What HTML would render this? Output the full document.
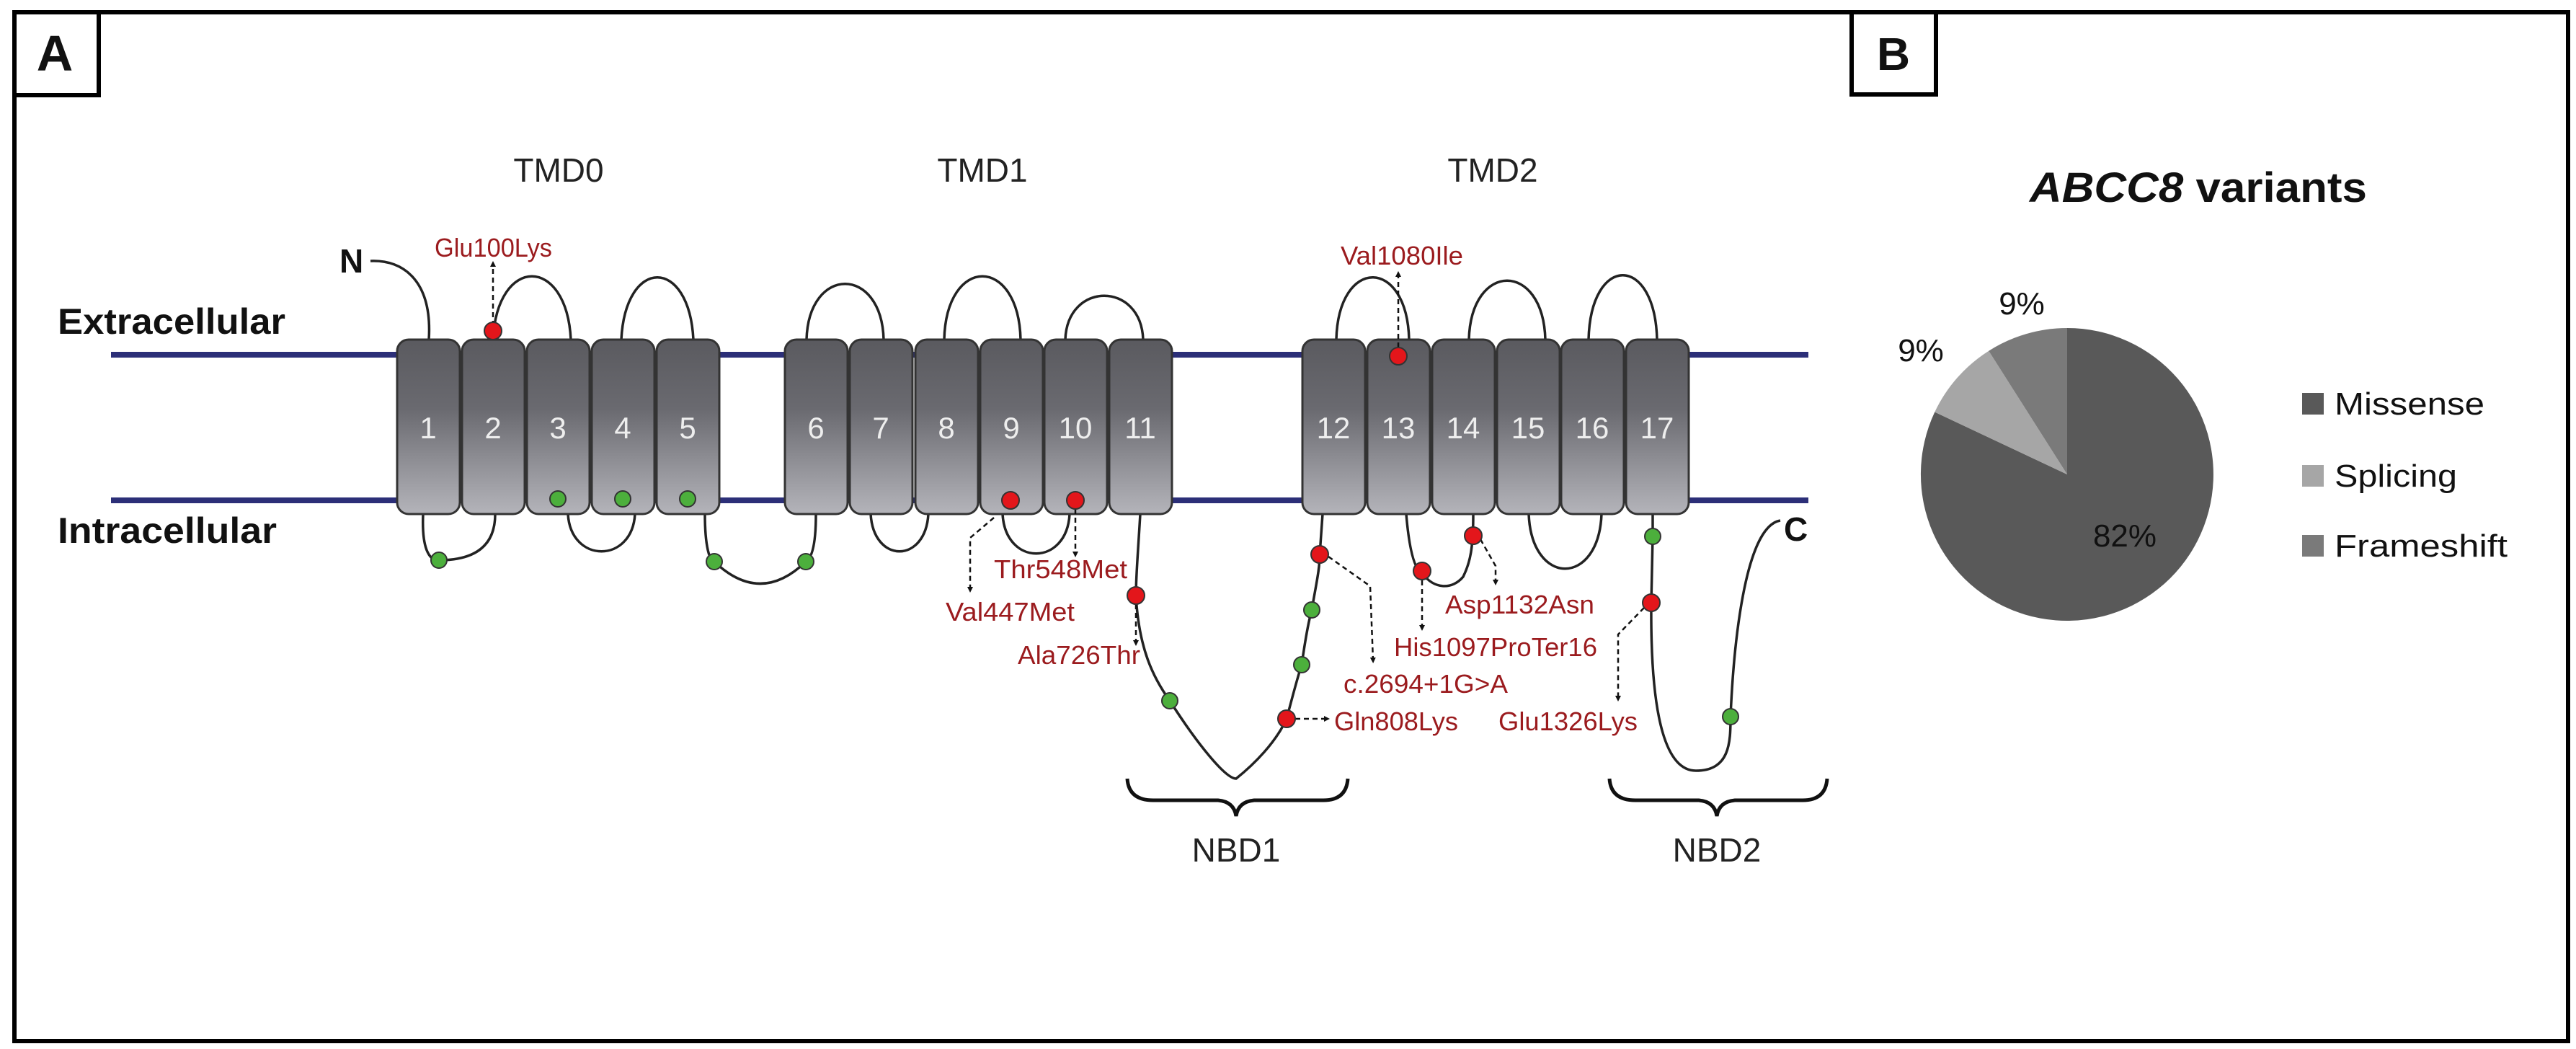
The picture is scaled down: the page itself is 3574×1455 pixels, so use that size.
<!DOCTYPE html>
<html><head><meta charset="utf-8"><style>
html,body{margin:0;padding:0;background:#fff;}
svg{display:block;}
</style></head><body>
<svg width="3574" height="1455" viewBox="0 0 3574 1455" xmlns="http://www.w3.org/2000/svg" font-family="Liberation Sans, sans-serif">
<defs>
<linearGradient id="hx" x1="0" y1="0" x2="0" y2="1">
<stop offset="0" stop-color="#5a5a5f"/>
<stop offset="0.4" stop-color="#6a6a70"/>
<stop offset="1" stop-color="#b4b4ba"/>
</linearGradient>
<marker id="ar" markerWidth="8" markerHeight="8" refX="4" refY="4" orient="auto" markerUnits="userSpaceOnUse">
<path d="M0,0 L8,4 L0,8 Z" fill="#111"/>
</marker>
</defs>
<rect x="0" y="0" width="3574" height="1455" fill="#fff"/>
<!-- outer border -->
<rect x="20" y="17" width="3543" height="1427" fill="none" stroke="#000" stroke-width="6"/>
<!-- A box -->
<rect x="20" y="17" width="117" height="115" fill="#fff" stroke="#000" stroke-width="6"/>
<text x="76" y="98" font-size="70" font-weight="bold" text-anchor="middle" fill="#111">A</text>
<!-- B box -->
<rect x="2569" y="17" width="117" height="114" fill="#fff" stroke="#000" stroke-width="6"/>
<text x="2627" y="97" font-size="64" font-weight="bold" text-anchor="middle" fill="#111">B</text>

<!-- membrane lines -->
<g stroke="#2c2f78" stroke-width="8">
<line x1="154" y1="492" x2="2509" y2="492"/>
<line x1="154" y1="694" x2="2509" y2="694"/>
</g>

<!-- labels -->
<text x="80" y="463" font-size="50" font-weight="bold" textLength="316" lengthAdjust="spacingAndGlyphs" fill="#111">Extracellular</text>
<text x="80" y="753" font-size="50" font-weight="bold" textLength="304" lengthAdjust="spacingAndGlyphs" fill="#111">Intracellular</text>
<g font-size="46" fill="#222" text-anchor="middle">
<text x="775" y="252">TMD0</text>
<text x="1363" y="252">TMD1</text>
<text x="2071" y="252">TMD2</text>
<text x="1715" y="1195">NBD1</text>
<text x="2382" y="1195">NBD2</text>
</g>
<text x="471" y="378" font-size="46" font-weight="bold" fill="#111">N</text>
<text x="2475" y="750" font-size="46" font-weight="bold" fill="#111">C</text>

<!-- loops -->
<g fill="none" stroke="#222" stroke-width="3.5">
<path d="M514,362 C560,360 600,390 595,471"/>
<path d="M684,471 C690,354 786,354 792,471"/>
<path d="M862,471 C868,356 956,356 962,471"/>
<path d="M1119,471 C1122,368 1223,368 1226,471"/>
<path d="M1310,471 C1313,354 1413,354 1416,471"/>
<path d="M1478,471 C1481,390 1583,390 1586,471"/>
<path d="M1854,471 C1857,356 1952,356 1955,471"/>
<path d="M2038,471 C2041,362 2141,362 2144,471"/>
<path d="M2204,471 C2207,352 2296,352 2299,471"/>
<path d="M587,713 C585,760 595,778 609,777 C640,777 687,770 687,713"/>
<path d="M788,713 C792,782 877,782 881,713"/>
<path d="M978,713 C978,760 985,779 991,779 Q1055,840 1118,779 C1125,775 1132,760 1132,713"/>
<path d="M1208,713 C1212,782 1284,782 1288,713"/>
<path d="M1391,713 C1395,786 1480,786 1484,713"/>
<path d="M1582,713 C1578,780 1576,800 1576,826 C1580,900 1600,940 1623,972 C1660,1030 1700,1080 1715,1080 C1740,1060 1770,1030 1785,997 C1795,960 1800,940 1806,922 C1812,880 1816,860 1820,846 C1826,810 1831,790 1831,769 L1835,713"/>
<path d="M1951,713 C1955,760 1962,790 1973,795 C1990,818 2015,818 2030,800 C2040,780 2044,760 2044,713"/>
<path d="M2121,713 C2125,814 2218,814 2222,713"/>
<path d="M2293,713 L2293,744 L2291,836 C2290,950 2300,1069 2353,1069 C2400,1069 2401,1030 2401,994 C2405,900 2420,730 2470,722"/>
</g>
<!-- braces -->
<g fill="none" stroke="#111" stroke-width="5">
<path d="M1564,1080 Q1566,1110 1600,1110 L1690,1110 Q1712,1112 1715,1132 Q1718,1112 1740,1110 L1836,1110 Q1868,1110 1870,1080"/>
<path d="M2233,1080 Q2235,1110 2269,1110 L2357,1110 Q2379,1112 2382,1132 Q2385,1112 2407,1110 L2501,1110 Q2533,1110 2535,1080"/>
</g>

<!-- helices -->
<g stroke="#333" stroke-width="3" fill="url(#hx)">
<rect x="551" y="471" width="87" height="242" rx="16"/>
<rect x="641" y="471" width="87" height="242" rx="16"/>
<rect x="731" y="471" width="87" height="242" rx="16"/>
<rect x="821" y="471" width="87" height="242" rx="16"/>
<rect x="911" y="471" width="87" height="242" rx="16"/>
<rect x="1089" y="471" width="87" height="242" rx="16"/>
<rect x="1179" y="471" width="87" height="242" rx="16"/>
<rect x="1270" y="471" width="87" height="242" rx="16"/>
<rect x="1360" y="471" width="87" height="242" rx="16"/>
<rect x="1449" y="471" width="87" height="242" rx="16"/>
<rect x="1539" y="471" width="87" height="242" rx="16"/>
<rect x="1807" y="471" width="87" height="242" rx="16"/>
<rect x="1897" y="471" width="87" height="242" rx="16"/>
<rect x="1987" y="471" width="87" height="242" rx="16"/>
<rect x="2077" y="471" width="87" height="242" rx="16"/>
<rect x="2166" y="471" width="87" height="242" rx="16"/>
<rect x="2256" y="471" width="87" height="242" rx="16"/>
</g>
<g font-size="42" fill="#eee" text-anchor="middle">
<text x="594" y="608">1</text><text x="684" y="608">2</text><text x="774" y="608">3</text>
<text x="864" y="608">4</text><text x="954" y="608">5</text><text x="1132" y="608">6</text>
<text x="1222" y="608">7</text><text x="1313" y="608">8</text><text x="1403" y="608">9</text>
<text x="1492" y="608">10</text><text x="1582" y="608">11</text><text x="1850" y="608">12</text>
<text x="1940" y="608">13</text><text x="2030" y="608">14</text><text x="2120" y="608">15</text>
<text x="2209" y="608">16</text><text x="2299" y="608">17</text>
</g>

<!-- dashed arrows -->
<g fill="none" stroke="#111" stroke-width="2.5" stroke-dasharray="7,5" marker-end="url(#ar)">
<path d="M684,452 L684,366"/>
<path d="M1940,482 L1940,380"/>
<path d="M1379,718 L1346,746 L1346,818"/>
<path d="M1492,706 L1492,769"/>
<path d="M1576,838 L1576,892"/>
<path d="M1797,997 L1841,997"/>
<path d="M1843,772 L1901,813 L1905,916"/>
<path d="M1973,805 L1973,871"/>
<path d="M2054,748 L2075,785 L2075,808"/>
<path d="M2281,843 L2245,880 L2245,969"/>
</g>

<!-- dots -->
<g stroke="#333" stroke-width="2">
<g fill="#e3161b">
<circle cx="684" cy="459" r="12"/>
<circle cx="1402" cy="694" r="12"/>
<circle cx="1492" cy="694" r="12"/>
<circle cx="1576" cy="826" r="12"/>
<circle cx="1785" cy="997" r="12"/>
<circle cx="1831" cy="769" r="12"/>
<circle cx="1940" cy="494" r="12"/>
<circle cx="1973" cy="792" r="12"/>
<circle cx="2044" cy="743" r="12"/>
<circle cx="2291" cy="836" r="12"/>
</g>
<g fill="#4caf3c">
<circle cx="609" cy="777" r="11"/>
<circle cx="774" cy="692" r="11"/>
<circle cx="864" cy="692" r="11"/>
<circle cx="954" cy="692" r="11"/>
<circle cx="991" cy="779" r="11"/>
<circle cx="1118" cy="779" r="11"/>
<circle cx="1623" cy="972" r="11"/>
<circle cx="1806" cy="922" r="11"/>
<circle cx="1820" cy="846" r="11"/>
<circle cx="2293" cy="744" r="11"/>
<circle cx="2401" cy="994" r="11"/>
</g>
</g>

<!-- mutation labels -->
<g font-size="36" fill="#9b1b1e">
<text x="603" y="356" textLength="163" lengthAdjust="spacingAndGlyphs">Glu100Lys</text>
<text x="1860" y="367" textLength="170" lengthAdjust="spacingAndGlyphs">Val1080Ile</text>
<text x="1379" y="802" textLength="185" lengthAdjust="spacingAndGlyphs">Thr548Met</text>
<text x="1312" y="861" textLength="179" lengthAdjust="spacingAndGlyphs">Val447Met</text>
<text x="1412" y="921" textLength="170" lengthAdjust="spacingAndGlyphs">Ala726Thr</text>
<text x="2005" y="851" textLength="207" lengthAdjust="spacingAndGlyphs">Asp1132Asn</text>
<text x="1934" y="910" textLength="282" lengthAdjust="spacingAndGlyphs">His1097ProTer16</text>
<text x="1864" y="961" textLength="228" lengthAdjust="spacingAndGlyphs">c.2694+1G&gt;A</text>
<text x="1851" y="1013" textLength="172" lengthAdjust="spacingAndGlyphs">Gln808Lys</text>
<text x="2079" y="1013" textLength="193" lengthAdjust="spacingAndGlyphs">Glu1326Lys</text>
</g>

<!-- Pie chart B -->
<text x="2816" y="280" font-size="58" font-weight="bold" fill="#111" textLength="468" lengthAdjust="spacingAndGlyphs"><tspan font-style="italic">ABCC8</tspan> variants</text>
<path d="M2868,658 L2868,455 A203,203 0 1 1 2684.3,571.5 Z" fill="#595959"/>
<path d="M2868,658 L2684.3,571.5 A203,203 0 0 1 2759.2,486.7 Z" fill="#a6a6a6"/>
<path d="M2868,658 L2759.2,486.7 A203,203 0 0 1 2868,455 Z" fill="#7a7a7a"/>
<g font-size="44" fill="#111" text-anchor="middle">
<text x="2805" y="436">9%</text>
<text x="2665" y="501">9%</text>
<text x="2948" y="758">82%</text>
</g>
<rect x="3194" y="545" width="30" height="30" fill="#595959"/>
<rect x="3194" y="645" width="30" height="30" fill="#a6a6a6"/>
<rect x="3194" y="742" width="30" height="30" fill="#7a7a7a"/>
<g font-size="44" fill="#111">
<text x="3239" y="575" textLength="208" lengthAdjust="spacingAndGlyphs">Missense</text>
<text x="3239" y="675" textLength="170" lengthAdjust="spacingAndGlyphs">Splicing</text>
<text x="3239" y="772" textLength="240" lengthAdjust="spacingAndGlyphs">Frameshift</text>
</g>
</svg>
</body></html>
